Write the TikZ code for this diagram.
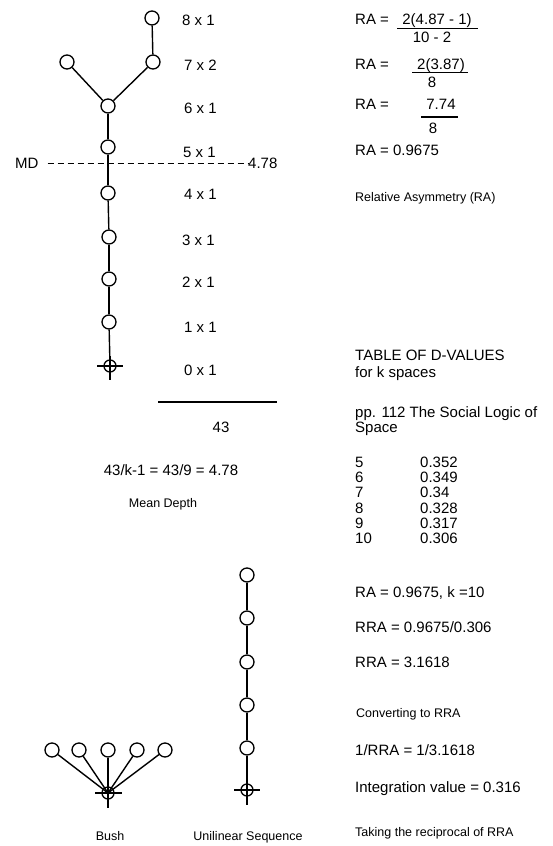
\documentclass[tikz,border=0pt]{standalone}
\usepackage{fontspec}
\setmainfont{Liberation Sans}
\begin{document}
\begin{tikzpicture}[x=1pt,y=-1pt,
  sp/.style={circle,draw,line width=1.3pt,minimum size=14pt,inner sep=0pt},
  rt/.style={circle,draw,line width=1.3pt,minimum size=12pt,inner sep=0pt},
  edge/.style={line width=1.4pt},
  crossline/.style={line width=2.4pt},
  big/.style={font=\fontsize{15}{18}\selectfont,inner sep=0pt},
  small/.style={font=\fontsize{12.5}{15}\selectfont,inner sep=0pt},
  lab/.style={big,anchor=base west},
  slab/.style={small,anchor=base west},
  cb/.style={big,anchor=base},
  rule/.style={line width=1.1pt},
]
\useasboundingbox (0,0) rectangle (553,846);

% ---------- main tree ----------
\node[sp] (n8) at (152,18) {};
\node[sp] (n7a) at (67,62) {};
\node[sp] (n7b) at (153,62) {};
\node[sp] (n6) at (108,106) {};
\node[sp] (n5) at (108,147) {};
\node[sp] (n4) at (108,193) {};
\node[sp] (n3) at (109,237) {};
\node[sp] (n2) at (109,279) {};
\node[sp] (n1) at (109,322) {};
\node[rt] (n0) at (110,366) {};
\draw[edge] (n8) -- (n7b);
\draw[edge] (n7a) -- (n6);
\draw[edge] (n7b) -- (n6);
\draw[edge] (n6) -- (n5);
\draw[edge] (n5) -- (n4);
\draw[edge] (n4) -- (n3);
\draw[edge] (n3) -- (n2);
\draw[edge] (n2) -- (n1);
\draw[edge] (n1) -- (n0);
\draw[crossline] ([xshift=-13pt]n0.center) -- ([xshift=13pt]n0.center);
\draw[crossline] ([yshift=10pt]n0.center) -- ([yshift=-14pt]n0.center);

\node[lab] (l8) at (182,25.5) {8 x 1};
\node[lab] (l7) at (184,70.5) {7 x 2};
\node[lab] (l6) at (184,113.5) {6 x 1};
\node[lab] (l5) at (183,157.5) {5 x 1};
\node[lab] (l4) at (184,199.5) {4 x 1};
\node[lab] (l3) at (182,245.5) {3 x 1};
\node[lab] (l2) at (182,287.5) {2 x 1};
\node[lab] (l1) at (184,332.5) {1 x 1};
\node[lab] (l0) at (184,375.5) {0 x 1};

\node[lab] (md) at (15,168.5) {MD};
\node[lab] (mdv) at (248,168.5) {4.78};
\draw[line width=1pt,dash pattern=on 6pt off 4pt] ([xshift=9pt,yshift=5pt]md.base east) -- ([yshift=5pt]mdv.base west);

\coordinate (ra) at (158,402);
\coordinate (rb) at (277,402);
\draw[rule] (ra) -- (rb);
\node[cb] (sum) at (221,432) {43};
\node[cb] (mdf) at (171,475.5) {43/k-1 = 43/9 = 4.78};
\node[small,anchor=base] (mdt) at (163,507.5) {Mean Depth};

% ---------- bush ----------
\node[sp] (b1) at (52,750) {};
\node[sp] (b2) at (79,750) {};
\node[sp] (b3) at (108,750) {};
\node[sp] (b4) at (137,750) {};
\node[sp] (b5) at (165,750) {};
\node[rt] (b0) at (108,793) {};
\foreach \i in {1,...,5} \draw[edge] (b\i) -- (b0.center);
\draw[crossline] ([xshift=-13pt]b0.center) -- ([xshift=14pt]b0.center);
\draw[crossline] ([yshift=8pt]b0.center) -- ([yshift=-15pt]b0.center);
\node[small,anchor=base] (bl) at (110,840) {Bush};

% ---------- unilinear ----------
\node[sp] (u5) at (247,575) {};
\node[sp] (u4) at (247,618) {};
\node[sp] (u3) at (247,662) {};
\node[sp] (u2) at (247,705) {};
\node[sp] (u1) at (247,748) {};
\node[rt] (u0) at (247,790) {};
\draw[edge] (u5) -- (u4);
\draw[edge] (u4) -- (u3);
\draw[edge] (u3) -- (u2);
\draw[edge] (u2) -- (u1);
\draw[edge] (u1) -- (u0);
\draw[crossline] ([xshift=-13pt]u0.center) -- ([xshift=13pt]u0.center);
\draw[crossline] ([yshift=10pt]u0.center) -- ([yshift=-15pt]u0.center);
\node[small,anchor=base] (ul) at (248,840) {Unilinear Sequence};

% ---------- RA formulas ----------
\node[lab] (ra1) at (355,24.5) {RA =};
\node[cb] (ra1n) at (437,24.5) {2(4.87 - 1)};
\coordinate (f1a) at (397,28.5);
\coordinate (f1b) at (478,28.5);
\draw[rule] (f1a) -- (f1b);
\node[cb] (ra1d) at (432,42) {10 - 2};

\node[lab] (ra2) at (355,69) {RA =};
\node[cb] (ra2n) at (441,69) {2(3.87)};
\coordinate (f2a) at (412,72.5);
\coordinate (f2b) at (468,72.5);
\draw[rule] (f2a) -- (f2b);
\node[cb] (ra2d) at (432,87) {8};

\node[lab] (ra3) at (355,109) {RA =};
\node[cb] (ra3n) at (441,109) {7.74};
\coordinate (f3a) at (421,117);
\coordinate (f3b) at (458,117);
\draw[rule] (f3a) -- (f3b);
\node[cb] (ra3d) at (433,133) {8};

\node[lab] (ra4) at (355,155.5) {RA = 0.9675};
\node[slab] (rat) at (355,201.5) {Relative Asymmetry (RA)};

% ---------- table ----------
\node[lab] (t1) at (355,360.5) {TABLE OF D-VALUES};
\node[lab] (t2) at (355,377) {for k spaces};
\node[lab] (t3) at (355,417.5) {pp. 112 The Social Logic of};
\node[lab] (t4) at (355,432.5) {Space};
\foreach \k/\v [count=\i from 0] in {5/0.352,6/0.349,7/0.34,8/0.328,9/0.317,10/0.306}{
  \node[lab] (k\i) at (355,467.5+15.2*\i) {\k};
  \node[lab] (v\i) at (420,467.5+15.2*\i) {\v};
}

% ---------- RRA ----------
\node[lab] (r1) at (355,597.5) {RA = 0.9675, k =10};
\node[lab] (r2) at (355,632.5) {RRA = 0.9675/0.306};
\node[lab] (r3) at (355,667.5) {RRA = 3.1618};
\node[slab] (r4) at (356,717.5) {Converting to RRA};
\node[lab] (r5) at (355,755.5) {1/RRA = 1/3.1618};
\node[lab] (r6) at (355,792.5) {Integration value = 0.316};
\node[slab] (r7) at (355,836.5) {Taking the reciprocal of RRA};
\end{tikzpicture}
\end{document}
